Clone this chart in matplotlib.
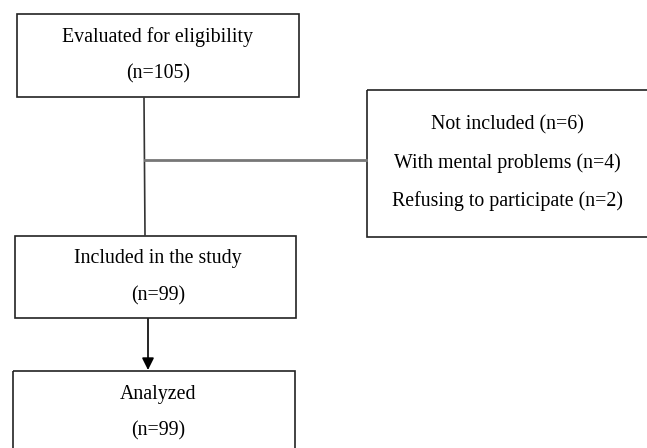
import matplotlib.pyplot as plt
from matplotlib.patches import Rectangle

# flowchart content
main_labels = ["Evaluated for eligibility", "Included in the study", "Analyzed"]
main_counts = [105, 99, 99]
excluded_title = "Not included"
excluded_count = 6
excluded_reasons = ["With mental problems", "Refusing to participate"]
excluded_reason_counts = [4, 2]

# layout in pixel coords (y down)
W, H = 647, 448
main_boxes = [(17, 14, 299, 97), (15, 236, 296, 318), (13, 371, 295, 460)]
side_box = (367, 90, 660, 237)
FONT = "Liberation Serif"
FS = 14.3

fig = plt.figure(figsize=(W / 100, H / 100), dpi=100)
ax = fig.add_axes([0, 0, 1, 1])
ax.set_xlim(0, W)
ax.set_ylim(H, 0)
ax.axis("off")

def box(x0, y0, x1, y1, color="#222222", lw=1.2):
    ax.add_patch(Rectangle((x0, y0), x1 - x0, y1 - y0, fill=False,
                           edgecolor=color, linewidth=lw))

for (x0, y0, x1, y1), lab, n in zip(main_boxes, main_labels, main_counts):
    box(x0, y0, x1, y1)
    cx = 158
    ax.text(cx, y0 + 23, lab, ha="center", va="center", fontsize=FS, family=FONT)
    ax.text(cx, y0 + 60, f"(n={n})", ha="center", va="center", fontsize=FS, family=FONT)

# side box with exclusions
box(*side_box)
lines = [f"{excluded_title} (n={excluded_count})"] + \
    [f"{r} (n={c})" for r, c in zip(excluded_reasons, excluded_reason_counts)]
for i, t in enumerate(lines):
    ax.text(507, 125 + i * 38, t, ha="center", va="center", fontsize=FS, family=FONT)

# connectors
ax.plot([144, 145], [98, 235], color="#333333", lw=1.2)
ax.plot([145, 366], [160.5, 160.5], color="#777777", lw=2)
ax.annotate("", xy=(148, 370), xytext=(148, 319),
            arrowprops=dict(arrowstyle="-|>", color="black", lw=1.2,
                            mutation_scale=18, shrinkA=0, shrinkB=0))

fig.savefig("out.png", dpi=100)
